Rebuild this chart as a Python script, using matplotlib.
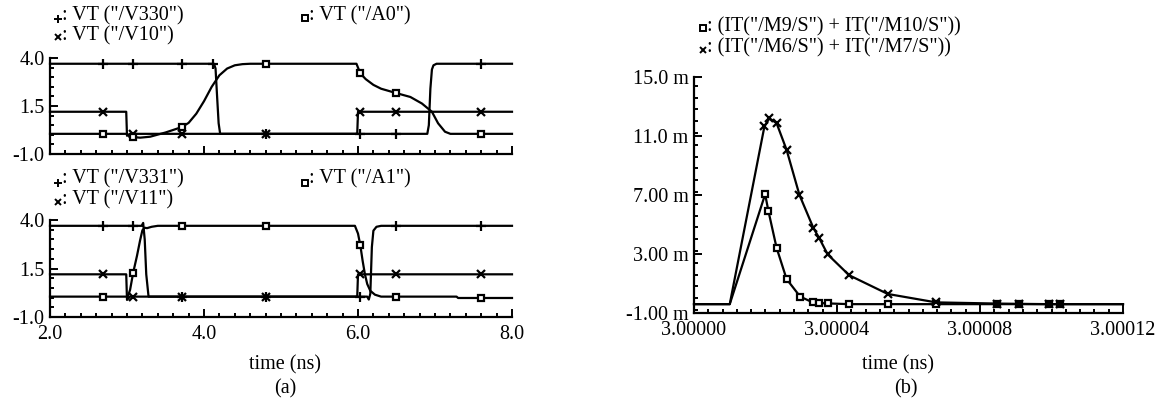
import matplotlib
matplotlib.use('Agg')
import matplotlib.pyplot as plt
from matplotlib.ticker import MultipleLocator
from matplotlib.lines import Line2D

plt.rcParams['font.family'] = ['Liberation Serif', 'DejaVu Sans']
plt.rcParams['axes.unicode_minus'] = False
plt.rcParams['font.size'] = 14.5

# ---- (a) upper: V330 / V10 / A0 ----
v330_t = [2.0, 2.69, 3.08, 3.71, 4.12, 4.13, 4.15, 4.17, 4.19, 4.21, 4.8, 6.03, 6.49,
          6.90, 6.92, 6.94, 6.96, 6.98, 7.02, 7.6, 8.0]
v330_v = [3.7, 3.7, 3.7, 3.7, 3.7, 3.7, 3.45, 2.0, 0.6, 0.05, 0.05, 0.05, 0.05,
          0.05, 0.5, 2.4, 3.4, 3.62, 3.7, 3.7, 3.7]
v330_m = [2.69, 3.08, 3.71, 4.12, 4.8, 6.03, 6.49, 7.6]

v10_t = [2.0, 2.69, 2.99, 3.0, 3.04, 3.08, 3.71, 4.8, 5.99, 6.0, 6.03, 6.49, 7.6, 8.0]
v10_v = [1.2, 1.2, 1.2, -0.05, 0.05, 0.05, 0.05, 0.05, 0.05, 1.2, 1.2, 1.2, 1.2, 1.2]
v10_m = [2.69, 3.08, 3.71, 4.8, 6.03, 6.49, 7.6]

a0_t = [2.0, 2.69, 3.0, 3.03, 3.08, 3.17, 3.3, 3.5, 3.71, 3.8, 3.9, 4.0, 4.1, 4.2, 4.3,
        4.4, 4.5, 4.6, 4.8, 5.98, 6.03, 6.1, 6.2, 6.3, 6.49, 6.68, 6.83, 6.96, 7.04,
        7.13, 7.2, 7.6, 8.0]
a0_v = [0.05, 0.05, 0.05, -0.08, -0.12, -0.15, -0.1, 0.12, 0.4, 0.62, 1.1, 1.75, 2.5,
        3.1, 3.45, 3.62, 3.68, 3.7, 3.7, 3.7, 3.2, 2.9, 2.6, 2.4, 2.18, 1.97, 1.63,
        1.2, 0.6, 0.16, 0.05, 0.05, 0.05]
a0_m = [2.69, 3.08, 3.71, 4.8, 6.03, 6.49, 7.6]

# ---- (a) lower: V331 / V11 / A1 ----
v331_t = [2.0, 2.69, 3.08, 3.19, 3.21, 3.23, 3.25, 3.28, 3.71, 4.8, 6.03, 6.12, 6.14,
          6.16, 6.18, 6.2, 6.24, 6.3, 6.49, 7.6, 8.0]
v331_v = [3.7, 3.7, 3.7, 3.7, 3.85, 3.0, 1.2, 0.05, 0.05, 0.05, 0.05, 0.05, -0.1,
          0.2, 2.6, 3.45, 3.65, 3.7, 3.7, 3.7, 3.7]
v331_m = [2.69, 3.08, 3.71, 4.8, 6.03, 6.49, 7.6]

v11_t = [2.0, 2.69, 2.99, 3.0, 3.04, 3.08, 3.71, 4.8, 5.99, 6.0, 6.03, 6.49, 7.6, 8.0]
v11_v = [1.2, 1.2, 1.2, -0.12, 0.05, 0.05, 0.05, 0.05, 0.05, 1.2, 1.2, 1.2, 1.2, 1.2]
v11_m = [2.69, 3.08, 3.71, 4.8, 6.03, 6.49, 7.6]

a1_t = [2.0, 2.69, 3.01, 3.04, 3.08, 3.13, 3.17, 3.2, 3.23, 3.26, 3.32, 3.4, 3.71, 4.8,
        5.96, 6.0, 6.03, 6.06, 6.09, 6.12, 6.16, 6.22, 6.3, 6.49, 7.28, 7.3, 7.6, 8.0]
a1_v = [0.05, 0.05, 0.05, 0.4, 1.28, 2.16, 2.95, 3.47, 3.6, 3.58, 3.65, 3.7, 3.7, 3.7,
        3.7, 3.3, 2.7, 1.9, 1.2, 0.7, 0.35, 0.15, 0.05, 0.05, 0.05, -0.02, -0.02, -0.02]
a1_m = [2.69, 3.08, 3.71, 4.8, 6.03, 6.49, 7.6]

# ---- (b) currents, mA ----
sq_t = [3.0, 3.0000100, 3.0000199, 3.0000208, 3.0000231, 3.0000259, 3.0000297,
        3.0000332, 3.0000350, 3.0000374, 3.0000434, 3.0000542, 3.0000677,
        3.0000847, 3.0000909, 3.0000993, 3.0001024, 3.00012]
sq_i = [-0.4, -0.4, 7.05, 5.93, 3.42, 1.30, 0.11, -0.28, -0.32, -0.35, -0.4, -0.4,
        -0.4, -0.4, -0.4, -0.4, -0.4, -0.4]
cr_t = [3.0, 3.0000100, 3.0000197, 3.0000211, 3.0000231, 3.0000259, 3.0000295,
        3.0000334, 3.0000350, 3.0000374, 3.0000434, 3.0000542, 3.0000677,
        3.0000847, 3.0000909, 3.0000993, 3.0001024, 3.00012]
cr_i = [-0.4, -0.4, 11.65, 12.2, 11.87, 10.06, 7.0, 4.76, 4.09, 2.97, 1.56, 0.29,
        -0.28, -0.36, -0.38, -0.4, -0.4, -0.4]

W, H = 1155, 405
fig = plt.figure(figsize=(11.55, 4.05), dpi=100)


def box(l, t, r, b):
    return [l / W, 1 - b / H, (r - l) / W, (b - t) / H]


def style(ax):
    for s in ('top', 'right'):
        ax.spines[s].set_visible(False)
    for s in ('left', 'bottom'):
        ax.spines[s].set_linewidth(1.6)
    ax.tick_params(which='both', direction='in', width=1.4, top=False, right=False)
    ax.tick_params(which='major', length=5.5, pad=4, labelsize=14.5)
    ax.tick_params(axis='x', which='major', pad=6)
    ax.tick_params(which='minor', length=3)


def trace(ax, t, v, marks, marker, ms):
    idx = [t.index(m) for m in marks]
    ax.plot(t, v, color='black', lw=1.6, marker=marker, markevery=idx, ms=ms,
            mew=1.6, mfc='white', mec='black', clip_on=False)


def legend_entry(x, y, ty, marker, ms, label):
    fig.add_artist(Line2D([x / W], [1 - y / H], marker=marker, color='black', ms=ms,
                          mew=1.4, mfc='white', transform=fig.transFigure))
    fig.text((x + 4) / W, 1 - ty / H, ': ' + label, va='center', ha='left', fontsize=14.5)


ax1 = fig.add_axes(box(50, 58, 512, 154))
ax2 = fig.add_axes(box(50, 220, 512, 317))
ax3 = fig.add_axes(box(694, 77, 1123, 313))

for ax in (ax1, ax2):
    style(ax)
    ax.set_xlim(2, 8)
    ax.set_ylim(-1, 4)
    ax.set_xticks([2, 4, 6, 8])
    ax.xaxis.set_minor_locator(MultipleLocator(0.2))
    ax.set_yticks([-1, 1.5, 4])
    ax.set_yticklabels(['-1.0', '1.5', '4.0'])
    ax.yaxis.set_minor_locator(MultipleLocator(0.5))

ax1.set_xticklabels([])
ax2.set_xticklabels(['2.0', '4.0', '6.0', '8.0'])

trace(ax1, v330_t, v330_v, v330_m, '+', 6.5)
trace(ax1, v10_t, v10_v, v10_m, 'x', 5.5)
trace(ax1, a0_t, a0_v, a0_m, 's', 5)

trace(ax2, v331_t, v331_v, v331_m, '+', 6.5)
trace(ax2, v11_t, v11_v, v11_m, 'x', 5.5)
trace(ax2, a1_t, a1_v, a1_m, 's', 5)

style(ax3)
ax3.set_xlim(3.0, 3.00012)
ax3.set_ylim(-1, 15)
xt = [3.0, 3.00004, 3.00008, 3.00012]
ax3.set_xticks(xt)
ax3.set_xticklabels(['%.5f' % v for v in xt])
ax3.xaxis.set_minor_locator(MultipleLocator(0.000004))
yt = [-1, 3, 7, 11, 15]
ax3.set_yticks(yt)
ax3.set_yticklabels(['-1.00 m', '3.00 m', '7.00 m', '11.0 m', '15.0 m'])
ax3.yaxis.set_minor_locator(MultipleLocator(0.8))

ax3.plot(sq_t, sq_i, color='black', lw=1.6, marker='s', markevery=slice(2, -1), ms=5,
         mew=1.6, mfc='white', clip_on=False)
ax3.plot(cr_t, cr_i, color='black', lw=1.6, marker='x', markevery=slice(2, -1), ms=5.5,
         mew=1.6, clip_on=False)

# legends
legend_entry(58, 18.5, 16, '+', 6, 'VT ("/V330")')
legend_entry(58, 36.5, 35.5, 'x', 5, 'VT ("/V10")')
legend_entry(305, 17.5, 16, 's', 4.5, 'VT ("/A0")')
legend_entry(58, 183, 179, '+', 6, 'VT ("/V331")')
legend_entry(58, 201.5, 200, 'x', 5, 'VT ("/V11")')
legend_entry(305, 183, 179, 's', 4.5, 'VT ("/A1")')
legend_entry(703, 28, 27, 's', 4.5, '(IT("/M9/S") + IT("/M10/S"))')
legend_entry(703, 50, 48, 'x', 5, '(IT("/M6/S") + IT("/M7/S"))')

# axis titles and panel tags
fig.text(285 / W, 1 - 365 / H, 'time (ns)', ha='center', va='center', fontsize=14.5)
fig.text(285 / W, 1 - 389 / H, '(a)', ha='center', va='center', fontsize=14.5)
fig.text(898 / W, 1 - 365 / H, 'time (ns)', ha='center', va='center', fontsize=14.5)
fig.text(906 / W, 1 - 389 / H, '(b)', ha='center', va='center', fontsize=14.5)

fig.savefig('out.png', dpi=100)
